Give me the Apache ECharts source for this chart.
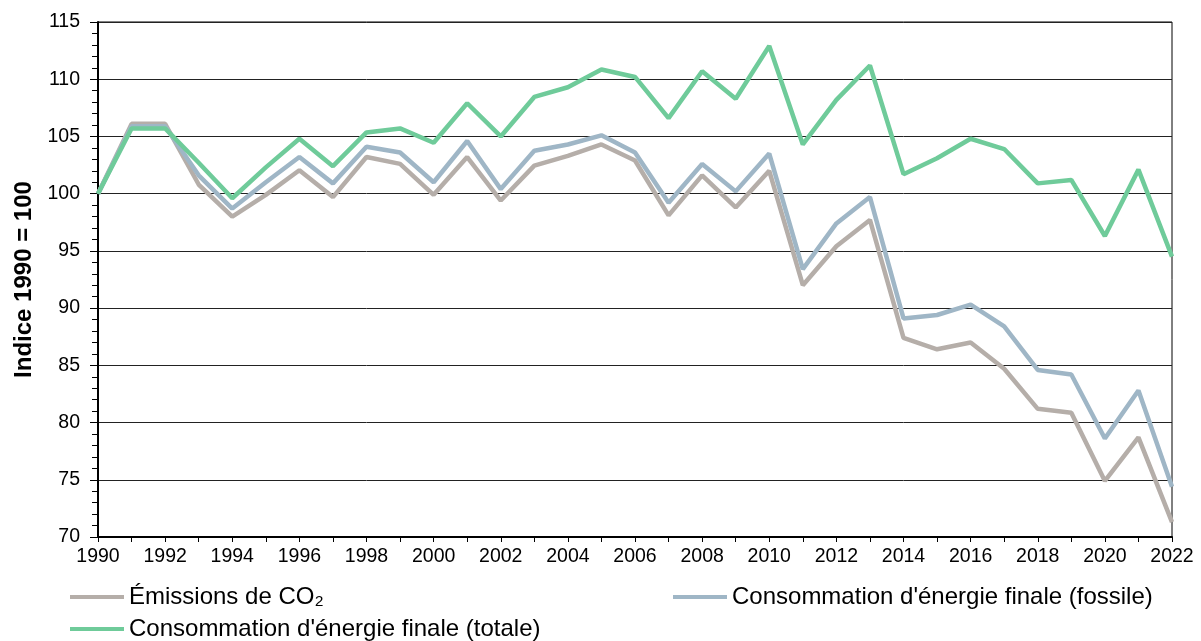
<!DOCTYPE html>
<html>
<head>
<meta charset="utf-8">
<script src="https://cdn.jsdelivr.net/npm/echarts@6/dist/echarts.min.js"></script>
<style>html,body{margin:0;padding:0;background:#fff}#c{width:1201px;height:641px}</style>
</head>
<body>
<div id="c"></div>
<script>
const years = ['1990','1991','1992','1993','1994','1995','1996','1997','1998','1999','2000','2001','2002','2003','2004','2005','2006','2007','2008','2009','2010','2011','2012','2013','2014','2015','2016','2017','2018','2019','2020','2021','2022'];
const co2 = [100,106.1,106.1,100.8,98.0,99.9,102.05,99.7,103.2,102.6,99.9,103.2,99.4,102.45,103.3,104.3,102.9,98.1,101.6,98.8,102.0,92.0,95.4,97.7,87.4,86.4,87.0,84.7,81.2,80.85,74.9,78.7,71.3];
const fossile = [100,105.9,105.9,101.6,98.7,101.0,103.2,100.9,104.1,103.6,101.0,104.6,100.4,103.75,104.3,105.1,103.6,99.2,102.6,100.2,103.5,93.4,97.4,99.7,89.1,89.4,90.3,88.4,84.6,84.2,78.6,82.8,74.4];
const totale = [100,105.7,105.7,102.7,99.6,102.3,104.8,102.4,105.35,105.7,104.45,107.9,105.0,108.45,109.3,110.85,110.2,106.6,110.7,108.3,112.9,104.3,108.2,111.2,101.7,103.1,104.8,103.9,100.9,101.2,96.3,102.1,94.5];
const names = ['Émissions de CO₂', "Consommation d'énergie finale (fossile)", "Consommation d'énergie finale (totale)"];
const colors = ['#b5aea9', '#9fb6c6', '#6fcb9a'];
const yTitle = 'Indice 1990 = 100';

const font = 'Liberation Sans, Arial, sans-serif';
const chart = echarts.init(document.getElementById('c'));
const legendBase = {
  icon: 'rect', itemWidth: 54, itemHeight: 4, orient: 'horizontal', padding: 0,
  textStyle: {fontFamily: font, fontSize: 24, color: '#000'},
  selectedMode: false
};
chart.setOption({
  animation: false,
  color: colors,
  grid: {left: 98, right: 29, top: 22, bottom: 104, show: true, borderColor: '#000', borderWidth: 1},
  legend: [
    Object.assign({}, legendBase, {data: [names[0]], left: 70, top: 585}),
    Object.assign({}, legendBase, {data: [names[1]], left: 673, top: 585}),
    Object.assign({}, legendBase, {data: [names[2]], left: 70, top: 617})
  ],
  xAxis: {
    type: 'category', data: years, boundaryGap: false,
    axisLine: {lineStyle: {color: '#000', width: 2}},
    axisTick: {show: true, interval: 0, length: 5, inside: false, lineStyle: {color: '#000'}},
    axisLabel: {interval: 1, fontFamily: font, fontSize: 19.5, color: '#000', margin: 10},
    splitLine: {show: false}
  },
  yAxis: {
    type: 'value', min: 70, max: 115, interval: 5,
    name: yTitle, nameLocation: 'middle', nameGap: 62,
    nameTextStyle: {fontFamily: font, fontSize: 24, fontWeight: 'bold', color: '#000'},
    axisLine: {show: true, lineStyle: {color: '#000', width: 2}},
    axisTick: {show: true, length: 8, lineStyle: {color: '#000'}},
    minorTick: {show: true, splitNumber: 5, length: 6, lineStyle: {color: '#000'}},
    axisLabel: {fontFamily: font, fontSize: 19.5, color: '#000', margin: 18},
    splitLine: {show: true, lineStyle: {color: '#222', width: 1}}
  },
  series: [
    {name: names[0], type: 'line', data: co2, symbol: 'none', lineStyle: {width: 4.5, color: colors[0]}, itemStyle: {color: colors[0]}},
    {name: names[1], type: 'line', data: fossile, symbol: 'none', lineStyle: {width: 4.5, color: colors[1]}, itemStyle: {color: colors[1]}},
    {name: names[2], type: 'line', data: totale, symbol: 'none', lineStyle: {width: 4.5, color: colors[2]}, itemStyle: {color: colors[2]}}
  ]
});
</script>
</body>
</html>
